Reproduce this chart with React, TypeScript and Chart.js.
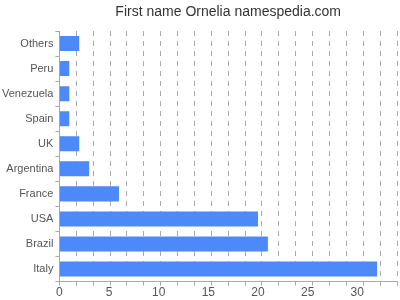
import React, { useEffect, useRef } from "react";
import { Chart, registerables } from "chart.js";

Chart.register(...registerables);

const title = "First name Ornelia namespedia.com";
const categories = ["Others", "Peru", "Venezuela", "Spain", "UK", "Argentina", "France", "USA", "Brazil", "Italy"];
const counts = [2, 1, 1, 1, 2, 3, 6, 20, 21, 32];
const axisMax = 34;
const labelStep = 5;
const gridDivisions = 20;

const font = "'Liberation Sans', Arial, sans-serif";

const centeredTitle = {
  id: "centeredTitle",
  afterDraw(chart: any) {
    const { ctx, chartArea } = chart;
    ctx.save();
    ctx.font = `14px ${font}`;
    ctx.fillStyle = "#333";
    ctx.textAlign = "center";
    ctx.textBaseline = "middle";
    ctx.fillText(title, (chartArea.left + chartArea.right) / 2, 12);
    ctx.restore();
  },
};

export default function App() {
  const ref = useRef<HTMLCanvasElement>(null);
  useEffect(() => {
    if (!ref.current) return;
    const chart = new Chart(ref.current, {
      type: "bar",
      data: {
        labels: categories,
        datasets: [
          {
            data: counts,
            backgroundColor: "rgb(77,137,249)",
            barPercentage: 0.6,
            categoryPercentage: 1,
          },
        ],
      },
      plugins: [centeredTitle],
      options: {
        indexAxis: "y",
        animation: false,
        responsive: false,
        maintainAspectRatio: false,
        layout: { padding: { left: 0, right: 3, top: 31, bottom: 0 } },
        plugins: {
          legend: { display: false },
          tooltip: { enabled: false },
          title: { display: false },
        },
        scales: {
          xg: {
            type: "linear",
            position: "bottom",
            axis: "x",
            min: 0,
            max: axisMax,
            weight: 0,
            afterBuildTicks: (scale: any) => {
              const t = [];
              for (let i = 0; i <= gridDivisions; i++) t.push({ value: (axisMax * i) / gridDivisions });
              scale.ticks = t;
            },
            ticks: { display: false },
            grid: {
              color: "#aaa",
              lineWidth: 1,
              tickLength: 4,
              drawTicks: true,
            },
            border: { display: true, color: "#aaa", dash: [5, 5] },
          },
          x: {
            type: "linear",
            position: "bottom",
            min: 0,
            max: axisMax,
            weight: 1,
            afterBuildTicks: (scale: any) => {
              scale.ticks = scale.ticks.filter((t: any) => t.value % labelStep === 0);
            },
            ticks: {
              stepSize: labelStep,
              color: "#555",
              font: { family: font, size: 12 },
              padding: 0,
            },
            grid: { display: false, drawTicks: false },
            border: { display: false },
          },
          y: {
            type: "category",
            grid: { drawOnChartArea: false, color: "#aaa", tickLength: 4 },
            border: { display: true, color: "#aaa" },
            ticks: {
              color: "#555",
              font: { family: font, size: 11 },
              padding: 2,
            },
          },
        },
      } as any,
    });
    return () => chart.destroy();
  }, []);
  return <canvas ref={ref} width={400} height={300} style={{ display: "block", position: "absolute", left: 0, top: 0 }} />;
}
